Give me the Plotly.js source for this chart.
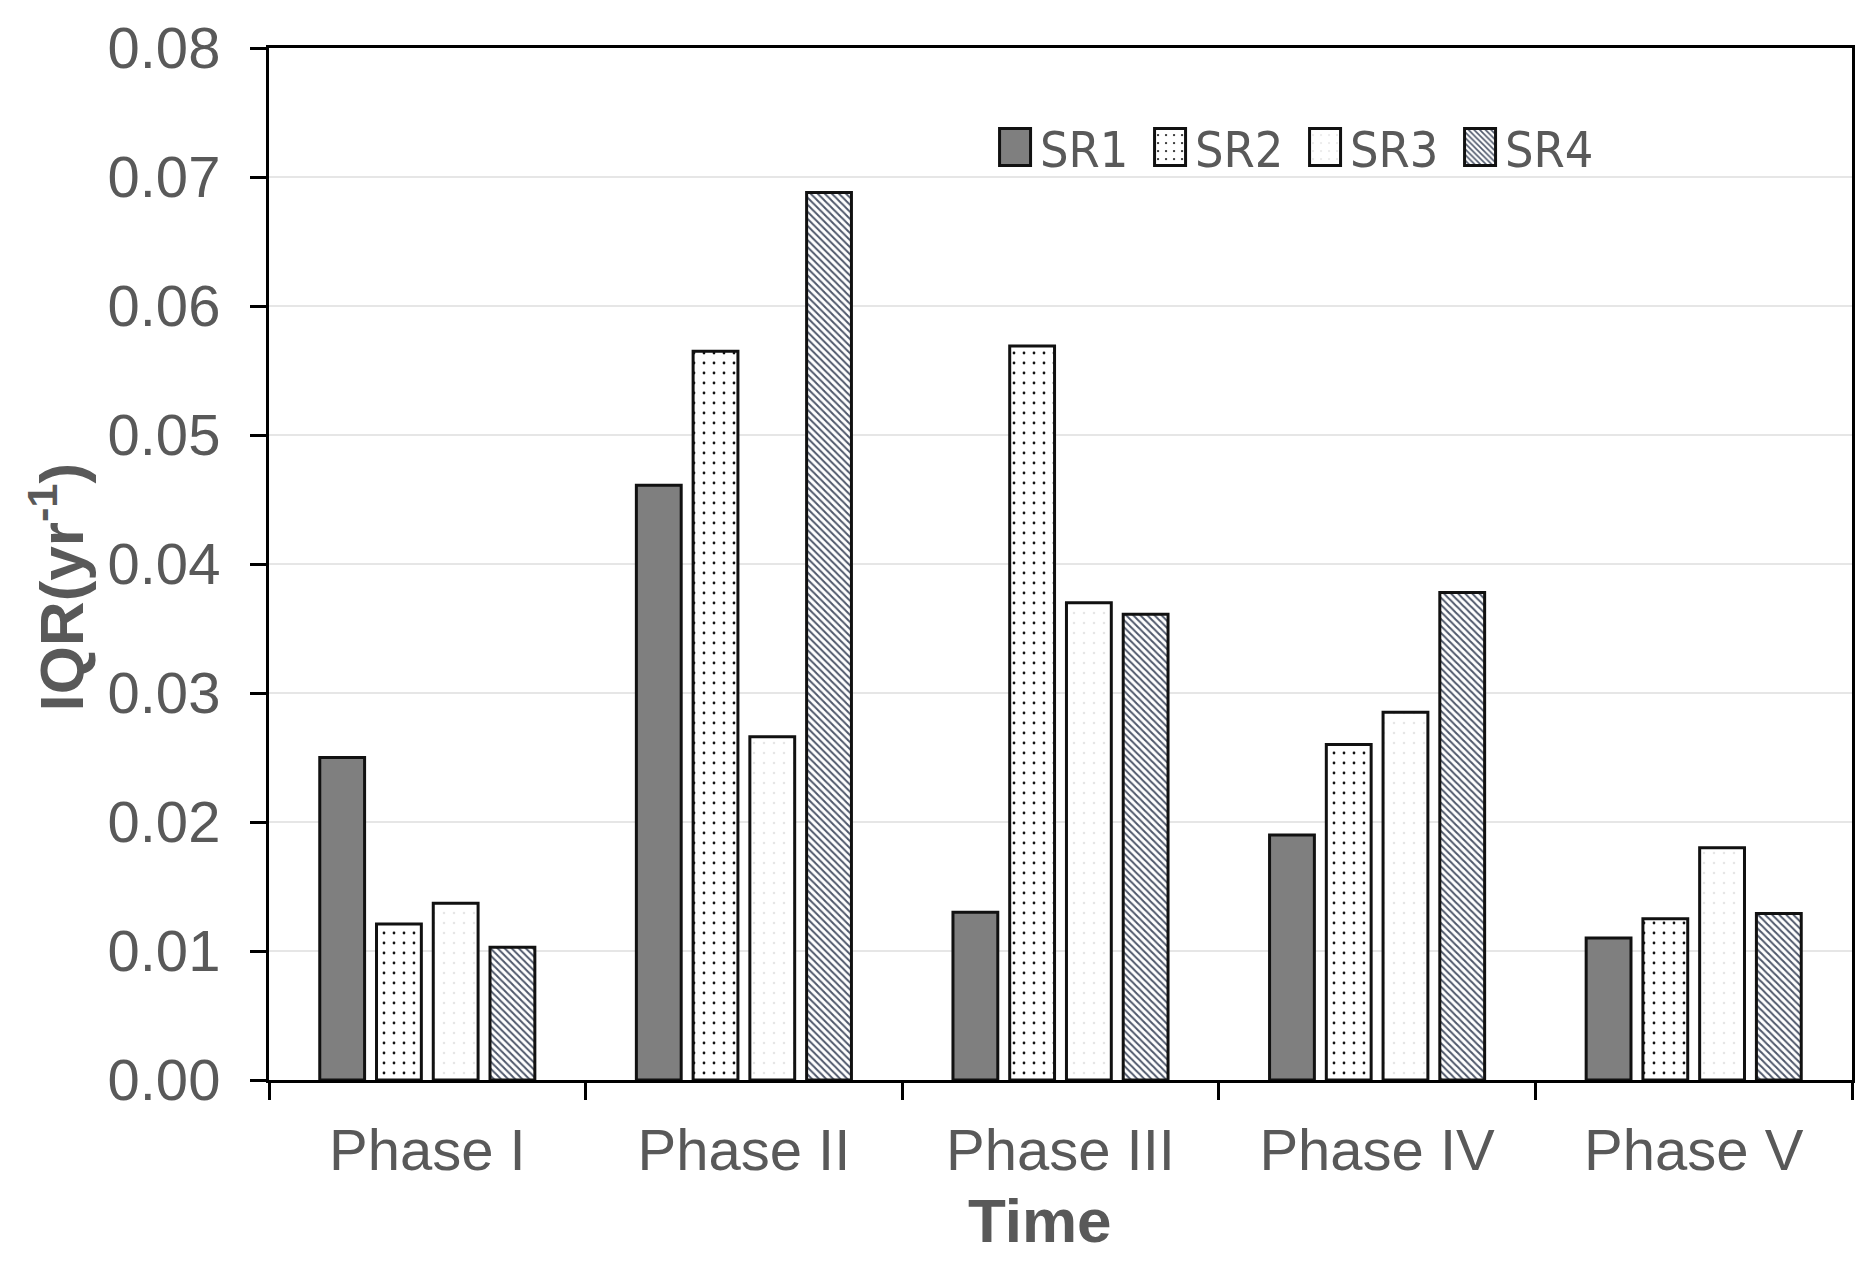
<!DOCTYPE html>
<html>
<head>
<meta charset="utf-8">
<script src="https://cdn.plot.ly/plotly-3.0.1.min.js"></script>
<style>html,body{margin:0;padding:0;background:#fff;}#chart{width:1876px;height:1269px;}</style>
</head>
<body>
<div id="chart"></div>
<script>
const categories = ['Phase I', 'Phase II', 'Phase III', 'Phase IV', 'Phase V'];
const seriesNames = ['SR1', 'SR2', 'SR3', 'SR4'];
const sr1 = [0.0250, 0.0461, 0.0130, 0.0190, 0.0110];
const sr2 = [0.0121, 0.0565, 0.0569, 0.0260, 0.0125];
const sr3 = [0.0137, 0.0266, 0.0370, 0.0285, 0.0180];
const sr4 = [0.0103, 0.0688, 0.0361, 0.0378, 0.0129];
const yTickVals = [0, 0.01, 0.02, 0.03, 0.04, 0.05, 0.06, 0.07, 0.08];
const yTickText = ['0.00', '0.01', '0.02', '0.03', '0.04', '0.05', '0.06', '0.07', '0.08'];

const gray = '#595959';
const lineStyle = {color: '#111111', width: 3};

const traces = [
  {type: 'bar', name: seriesNames[0], x: categories, y: sr1,
   marker: {color: '#7f7f7f', line: lineStyle}},
  {type: 'bar', name: seriesNames[1], x: categories, y: sr2,
   marker: {color: '#ffffff', line: lineStyle,
            pattern: {shape: '.', fgcolor: '#111111', bgcolor: '#ffffff', size: 10, solidity: 0.06}}},
  {type: 'bar', name: seriesNames[2], x: categories, y: sr3,
   marker: {color: '#ffffff', line: lineStyle,
            pattern: {shape: '.', fgcolor: '#e6e6e6', bgcolor: '#ffffff', size: 10, solidity: 0.05}}},
  {type: 'bar', name: seriesNames[3], x: categories, y: sr4,
   marker: {color: '#ffffff', line: lineStyle,
            pattern: {shape: '\\', fgcolor: '#4f586b', bgcolor: '#ffffff', size: 5, solidity: 0.4}}}
];

const layout = {
  width: 1876, height: 1269,
  margin: {l: 269, r: 24, t: 48, b: 189},
  paper_bgcolor: '#ffffff', plot_bgcolor: '#ffffff',
  barmode: 'group', bargap: 0.283, bargroupgap: 0.21,
  font: {family: 'Liberation Sans, Arial, sans-serif', color: gray},
  showlegend: true,
  legend: {orientation: 'h', x: 0.4555, xanchor: 'left', y: 0.904, yanchor: 'middle',
           bgcolor: 'rgba(0,0,0,0)', traceorder: 'normal', itemwidth: 40,
           font: {family: 'Liberation Sans Narrow, DejaVu Sans Condensed, Lato, sans-serif', size: 50, color: gray},
           entrywidth: 100, entrywidthmode: 'pixels'},
  xaxis: {type: 'category', showline: true, linecolor: '#000000', linewidth: 3, mirror: true,
          ticks: 'outside', tickson: 'boundaries', ticklen: 17, tickwidth: 3, tickcolor: '#000000',
          tickfont: {size: 58, color: gray}, ticklabelstandoff: 17, showgrid: false, fixedrange: true},
  yaxis: {range: [0, 0.08], tickvals: yTickVals, ticktext: yTickText,
          showline: true, linecolor: '#000000', linewidth: 3, mirror: true,
          ticks: 'outside', ticklen: 16, tickwidth: 3, tickcolor: '#000000',
          tickfont: {size: 58, color: gray}, ticklabelstandoff: 18,
          showgrid: true, gridcolor: '#e6e6e6', gridwidth: 2, zeroline: false, fixedrange: true},
  annotations: [
    {text: '<b>IQR(yr<sup>-1</sup>)</b>', xref: 'paper', yref: 'paper', x: -0.134, y: 0.478,
     xanchor: 'center', yanchor: 'middle', textangle: -90, showarrow: false,
     font: {size: 62, color: gray, family: 'Liberation Sans, Arial, sans-serif'}},
    {text: '<b>Time</b>', xref: 'paper', yref: 'paper', x: 0.487, y: -0.136,
     xanchor: 'center', yanchor: 'middle', showarrow: false,
     font: {size: 62, color: gray, family: 'Liberation Sans, Arial, sans-serif'}}
  ]
};

Plotly.newPlot('chart', traces, layout, {displayModeBar: false, staticPlot: true}).then(function (gd) {
  gd.querySelectorAll('.legend .legendpoints path').forEach(function (p) {
    p.setAttribute('d', 'M15.5,18.5H-15.5V-18.5H15.5Z');
  });
});
</script>
</body>
</html>
